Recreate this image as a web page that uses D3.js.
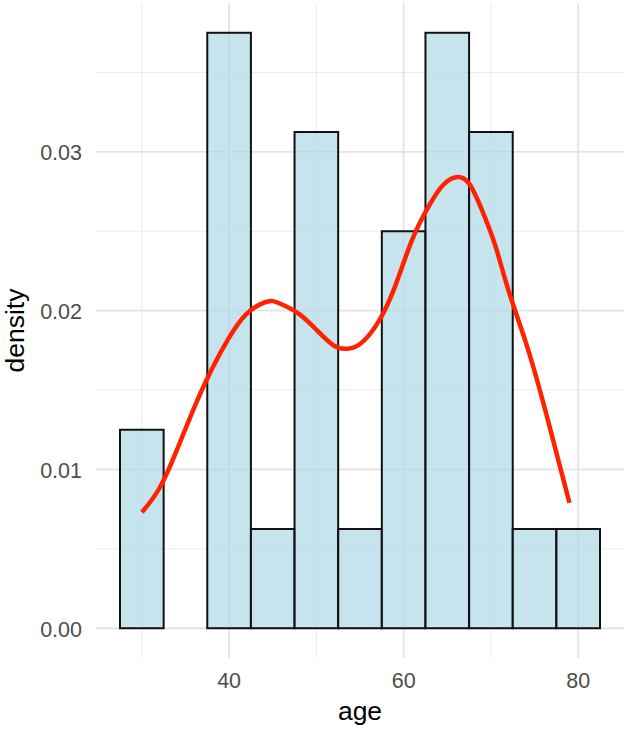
<!DOCTYPE html>
<html>
<head>
<meta charset="utf-8">
<script src="https://cdn.jsdelivr.net/npm/d3@7"></script>
<style>
  body { margin: 0; background: white; }
  text { font-family: "Liberation Sans", Arial, sans-serif; }
</style>
</head>
<body>
<div id="chart"></div>
<script>
// histogram bins (center of bin, width 5) and density per bin
const binCenters = [30, 35, 40, 45, 50, 55, 60, 65, 70, 75, 80];
const binDensity = [0.0125, 0, 0.0375, 0.00625, 0.03125, 0.00625, 0.025, 0.0375, 0.03125, 0.00625, 0.00625];
const binWidth = 5;

// density curve
const curveAge = [30, 32, 34, 36, 38, 40, 42, 44, 45, 46, 48, 50, 52, 53.5, 55, 57, 59, 61, 63, 64.5, 66, 67.5, 69, 70.5, 72, 74, 76, 78, 79];
const curveDens = [0.0073, 0.0088, 0.0112, 0.0139, 0.0163, 0.0183, 0.0198, 0.0205, 0.0206, 0.0204, 0.0198, 0.0188, 0.0178, 0.0176, 0.0179, 0.0192, 0.0215, 0.0245, 0.0267, 0.0279, 0.0284, 0.0280, 0.0263, 0.0241, 0.0213, 0.0180, 0.0142, 0.0100, 0.0079];

const xMajor = [40, 60, 80];
const xMinor = [30, 50, 70];
const yMajor = [0, 0.01, 0.02, 0.03];
const yMinor = [0.005, 0.015, 0.025, 0.035];

const width = 629, height = 729;
const panelLeft = 96, panelRight = 624, panelTop = 3, panelBottom = 658;

const x = d3.scaleLinear().domain([24.75, 85.25]).range([panelLeft, panelRight]);
const y = d3.scaleLinear().domain([-0.001875, 0.039375]).range([panelBottom, panelTop]);

const svg = d3.select('#chart').append('svg')
  .attr('width', width)
  .attr('height', height);

// grid
const grid = svg.append('g');
grid.selectAll('.xmin').data(xMinor).enter().append('line')
  .attr('x1', d => x(d)).attr('x2', d => x(d))
  .attr('y1', panelTop).attr('y2', panelBottom)
  .attr('stroke', '#ebebeb').attr('stroke-width', 1);
grid.selectAll('.ymin').data(yMinor).enter().append('line')
  .attr('x1', panelLeft).attr('x2', panelRight)
  .attr('y1', d => y(d)).attr('y2', d => y(d))
  .attr('stroke', '#ebebeb').attr('stroke-width', 1);
grid.selectAll('.xmaj').data(xMajor).enter().append('line')
  .attr('x1', d => x(d)).attr('x2', d => x(d))
  .attr('y1', panelTop).attr('y2', panelBottom)
  .attr('stroke', '#e4e4e4').attr('stroke-width', 1.8);
grid.selectAll('.ymaj').data(yMajor).enter().append('line')
  .attr('x1', panelLeft).attr('x2', panelRight)
  .attr('y1', d => y(d)).attr('y2', d => y(d))
  .attr('stroke', '#e4e4e4').attr('stroke-width', 1.8);

// bars
svg.append('g').selectAll('rect')
  .data(binCenters)
  .enter().append('rect')
    .attr('x', d => x(d - binWidth / 2))
    .attr('width', d => x(d + binWidth / 2) - x(d - binWidth / 2))
    .attr('y', (d, i) => y(binDensity[i]))
    .attr('height', (d, i) => y(0) - y(binDensity[i]))
    .attr('fill', 'lightblue')
    .attr('fill-opacity', 0.7)
    .attr('stroke', '#111')
    .attr('stroke-width', 2);

// density line
svg.append('path')
  .datum(curveAge)
  .attr('fill', 'none')
  .attr('stroke', '#ff2200')
  .attr('stroke-width', 4.5)
  .attr('d', d3.line()
    .x(d => x(d))
    .y((d, i) => y(curveDens[i]))
    .curve(d3.curveNatural));

// axis labels
svg.append('g').selectAll('text')
  .data(xMajor)
  .enter().append('text')
    .attr('x', d => x(d))
    .attr('y', 688)
    .attr('text-anchor', 'middle')
    .attr('font-size', 21.5)
    .attr('fill', '#4d4d4d')
    .text(d => d);

svg.append('g').selectAll('text')
  .data(yMajor)
  .enter().append('text')
    .attr('x', 82)
    .attr('y', d => y(d) + 8.5)
    .attr('text-anchor', 'end')
    .attr('font-size', 21.5)
    .attr('fill', '#4d4d4d')
    .text(d => d3.format('.2f')(d));

svg.append('text')
  .attr('x', (panelLeft + panelRight) / 2)
  .attr('y', 720)
  .attr('text-anchor', 'middle')
  .attr('font-size', 26.5)
  .attr('fill', '#000')
  .text('age');

svg.append('text')
  .attr('transform', `translate(24,${(panelTop + panelBottom) / 2}) rotate(-90)`)
  .attr('text-anchor', 'middle')
  .attr('font-size', 26.5)
  .attr('fill', '#000')
  .text('density');
</script>
</body>
</html>
